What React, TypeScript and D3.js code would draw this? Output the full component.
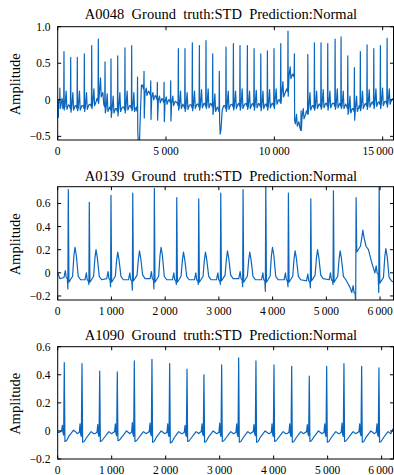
import React from "react";
import * as d3 from "d3";

const W = 394;
const H = 475;

const titles = [
  "A0048  Ground  truth:STD  Prediction:Normal",
  "A0139  Ground  truth:STD  Prediction:Normal",
  "A1090  Ground  truth:STD  Prediction:Normal",
];

const xTicks1 = [0, 5000, 10000, 15000];
const yTicks1 = [-0.5, 0, 0.5, 1.0];
const xTicks2 = [0, 1000, 2000, 3000, 4000, 5000, 6000];
const yTicks2 = [-0.2, 0, 0.2, 0.4, 0.6];
const xTicks3 = [0, 1000, 2000, 3000, 4000, 5000, 6000];
const yTicks3 = [-0.2, 0, 0.2, 0.4, 0.6];

// Panel 1 beats: [sample, baselineBefore, R, S, baselineAfter, T, (optional post-R points)]
const beats1: any[] = [
  [100, 0.0, 0.16, -0.12, -0.06, 0.02],
  [290, -0.04, 0.66, -0.14, -0.07, 0.12],
  [600, -0.08, 0.58, -0.17, -0.08, 0.1],
  [905, -0.08, 0.58, -0.15, -0.08, 0.12],
  [1230, -0.08, 0.63, -0.16, -0.07, 0.1],
  [1570, -0.06, 0.74, -0.12, -0.02, 0.15],
  [1875, 0.02, 0.83, -0.05, 0.1, 0.3],
  [2185, -0.06, 0.52, -0.18, -0.1, 0.08],
  [2460, -0.1, 0.56, -0.24, -0.12, 0.05],
  [2770, -0.12, 0.6, -0.22, -0.1, 0.1],
  [3105, -0.1, 0.71, -0.18, -0.08, 0.12],
  [3415, -0.08, 0.74, -0.15, -0.1, 0.1],
  [3685, -0.12, 0.31, -0.56, 0.2, 0.22, [[12, -0.45], [35, -0.56], [90, -0.56], [130, -0.2], [180, 0.2], [230, 0.2]]],
  [3985, 0.18, 0.39, -0.25, 0.12, 0.16],
  [4295, 0.1, 0.26, -0.27, 0.06, 0.1],
  [4600, 0.04, 0.24, -0.28, 0.02, 0.05],
  [4910, 0.0, 0.24, -0.3, 0.0, 0.04],
  [5215, 0.0, 0.26, -0.29, -0.02, 0.05],
  [5570, -0.04, 0.7, -0.14, -0.06, 0.12],
  [5875, -0.08, 0.7, -0.16, -0.07, 0.1],
  [6215, -0.07, 0.78, -0.15, -0.06, 0.12],
  [6540, -0.06, 0.74, -0.14, -0.05, 0.14],
  [6845, -0.05, 0.81, -0.12, -0.05, 0.15],
  [7155, -0.06, 0.63, -0.2, -0.1, 0.08],
  [7460, -0.12, 0.39, -0.47, -0.1, 0.05, [[15, -0.3], [40, -0.47], [80, -0.4], [130, -0.15], [200, -0.08]]],
  [7770, -0.08, 0.72, -0.16, -0.07, 0.12],
  [8110, -0.06, 0.77, -0.14, -0.06, 0.12],
  [8415, -0.05, 0.74, -0.14, -0.06, 0.15],
  [8755, -0.05, 0.74, -0.13, -0.06, 0.12],
  [9065, -0.05, 0.7, -0.14, -0.05, 0.13],
  [9375, -0.06, 0.63, -0.15, -0.06, 0.12],
  [9680, -0.06, 0.67, -0.14, -0.05, 0.14],
  [9985, -0.05, 0.7, -0.12, 0.0, 0.15],
  [10295, 0.0, 0.77, -0.05, 0.1, 0.25],
  [10630, 0.15, 0.94, 0.05, 0.35, 0.45],
  [10925, 0.35, 0.63, -0.28, -0.3, -0.2],
  [11235, -0.38, -0.15, -0.42, -0.2, -0.12],
  [11545, -0.15, 0.62, -0.2, -0.08, 0.1],
  [11850, -0.08, 0.78, -0.14, -0.06, 0.12],
  [12155, -0.06, 0.78, -0.13, -0.05, 0.14],
  [12465, -0.05, 0.77, -0.14, -0.05, 0.12],
  [12805, -0.05, 0.83, -0.13, -0.05, 0.15],
  [13080, -0.05, 0.86, -0.12, -0.06, 0.12],
  [13390, -0.08, 0.6, -0.2, -0.12, 0.05],
  [13695, -0.12, 0.44, -0.28, -0.1, 0.05],
  [13970, -0.08, 0.66, -0.15, -0.06, 0.12],
  [14280, -0.05, 0.75, -0.13, -0.04, 0.14],
  [14590, -0.03, 0.7, -0.12, -0.03, 0.15],
  [14895, -0.03, 0.74, -0.12, -0.02, 0.16],
  [15205, -0.02, 0.84, -0.1, 0.0, 0.15],
];
const fields1 = { b: 1, r: 2, s: 3, a: 4, t: 5 };
const tpl1: [number, string, number][] = [
  [-60, "b", 0], [-14, "b", -0.04], [0, "r", 0], [12, "s", 0],
  [45, "a", -0.03], [100, "t", 0], [135, "a", -0.06], [210, "a", 0],
];
const extras1: [number, number][] = [[0, -0.02], [30, -0.24], [15500, 0.02]];

// Panel 2 beats: [sample, baseline, Q, R, T, after]
const beats2: any[] = [
  [197, -0.04, -0.14, 0.72, 0.22, -0.06],
  [588, -0.06, -0.1, 0.61, 0.2, -0.06],
  [992, -0.05, -0.12, 0.67, 0.18, -0.06],
  [1397, -0.06, -0.15, 0.69, 0.19, -0.05],
  [1799, -0.05, -0.14, 0.73, 0.22, -0.06],
  [2216, -0.06, -0.1, 0.65, 0.18, -0.06],
  [2625, -0.06, -0.1, 0.64, 0.18, -0.06],
  [3035, -0.06, -0.1, 0.69, 0.19, -0.05],
  [3450, -0.05, -0.12, 0.72, 0.18, -0.06],
  [3873, -0.06, -0.16, 0.78, 0.22, -0.06],
  [4294, -0.06, -0.12, 0.69, 0.19, -0.06],
  [4711, -0.07, -0.13, 0.64, 0.2, -0.05],
  [5132, -0.06, -0.1, 0.71, 0.19, -0.06],
  [5554, -0.17, -0.26, 0.65, 0.37, 0.2],
  [5983, 0.0, -0.17, 0.78, 0.21, -0.07],
];
const fields2 = { b: 1, q: 2, r: 3, t: 4, a: 5 };
const tpl2: [number, string, number][] = [
  [-80, "b", 0], [-55, "b", 0.06], [-38, "b", 0], [-18, "b", -0.01], [-8, "q", 0],
  [0, "r", 0], [12, "a", -0.02], [40, "a", 0], [80, "a", 0.03], [105, "t", -0.07],
  [125, "t", 0], [150, "t", -0.07], [185, "a", 0.03], [230, "a", 0],
];
const extras2: [number, number][] = [[0, 0.0], [40, -0.05], [5400, -0.09], [5445, -0.13], [5850, 0.08], [6250, -0.08]];

// Panel 3 beats: [sample, baseline, R, S, preR]
const beats3: any[] = [
  [122, -0.01, 0.486, -0.075, 0.04],
  [450, -0.02, 0.48, -0.08, 0.05],
  [778, -0.02, 0.426, -0.075, 0.045],
  [1104, -0.015, 0.42, -0.07, 0.05],
  [1419, -0.02, 0.5, -0.075, 0.06],
  [1746, -0.015, 0.51, -0.08, 0.055],
  [2074, -0.02, 0.48, -0.085, 0.05],
  [2395, -0.02, 0.44, -0.075, 0.04],
  [2709, -0.015, 0.4, -0.08, 0.05],
  [3037, -0.02, 0.47, -0.075, 0.055],
  [3352, -0.02, 0.52, -0.08, 0.05],
  [3672, -0.015, 0.5, -0.08, 0.045],
  [4006, -0.02, 0.47, -0.075, 0.05],
  [4334, -0.02, 0.46, -0.08, 0.05],
  [4660, -0.015, 0.39, -0.075, 0.045],
  [4982, -0.02, 0.46, -0.08, 0.05],
  [5302, -0.02, 0.48, -0.075, 0.055],
  [5630, -0.015, 0.46, -0.08, 0.05],
  [5950, -0.02, 0.45, -0.08, 0.05],
];
const fields3 = { b: 1, r: 2, s: 3, p: 4 };
const tpl3: [number, string, number][] = [
  [-90, "b", 0], [-50, "b", 0.01], [-36, "p", 0], [-26, "b", 0], [-12, "b", -0.02],
  [0, "r", 0], [12, "s", 0], [40, "s", 0.005], [90, "b", -0.025], [140, "b", 0.0],
  [170, "b", 0.015], [220, "b", 0],
];
const extras3: [number, number][] = [[0, -0.01], [6220, 0.02]];

function build(beats: any[], fields: any, tpl: [number, string, number][], extras: [number, number][]) {
  const pts: [number, number][] = [];
  beats.forEach((bt) => {
    const x = bt[0];
    const last = bt[bt.length - 1];
    const post = Array.isArray(last) ? last : null;
    tpl.forEach(([off, f, add]) => {
      if (post && off > 0) return;
      pts.push([x + off, bt[fields[f]] + add]);
    });
    if (post) post.forEach(([off, v]: [number, number]) => pts.push([x + off, v]));
  });
  extras.forEach((p) => pts.push(p));
  pts.sort((a, b) => a[0] - b[0]);
  return pts;
}

const LEFT = 57.7;
const RIGHT = 393.5;

const panels = [
  {
    title: titles[0], top: 26.7, bottom: 140, xMax: 15500, yDom: [-0.55, 1.0],
    xTicks: xTicks1, yTicks: yTicks1, data: build(beats1, fields1, tpl1, extras1),
    titleY: 19, xLabY: 155,
  },
  {
    title: titles[1], top: 186.7, bottom: 300, xMax: 6250, yDom: [-0.235, 0.745],
    xTicks: xTicks2, yTicks: yTicks2, data: build(beats2, fields2, tpl2, extras2),
    titleY: 180.5, xLabY: 315,
  },
  {
    title: titles[2], top: 346.7, bottom: 459, xMax: 6220, yDom: [-0.2, 0.6],
    xTicks: xTicks3, yTicks: yTicks3, data: build(beats3, fields3, tpl3, extras3),
    titleY: 340, xLabY: 473.5,
  },
];

const fmtX = (v: number) => (v === 0 ? "0" : d3.format(",")(v).replace(/,/g, "\u2009"));
const fmtY = (v: number) => (v === 0 ? "0" : d3.format(".1f")(v));

const FONT = "'Liberation Serif', 'Times New Roman', serif";
const LINE = "#0b66bd";
const TL = 3.5;
const TFS = 11.5;

function Panel({ p, i }: { p: any; i: number }) {
  const x = d3.scaleLinear().domain([0, p.xMax]).range([LEFT, RIGHT]);
  const y = d3.scaleLinear().domain(p.yDom).range([p.bottom, p.top]);
  const line = d3.line<[number, number]>().x((d) => x(d[0])).y((d) => y(d[1]));
  const cid = `clip${i}`;
  return (
    <g>
      <defs>
        <clipPath id={cid}>
          <rect x={LEFT} y={p.top} width={RIGHT - LEFT} height={p.bottom - p.top} />
        </clipPath>
      </defs>
      <text x={221} y={p.titleY} textAnchor="middle" fontSize={14.5} fontFamily={FONT} style={{ whiteSpace: "pre" }}>
        {p.title}
      </text>
      <path d={line(p.data) || ""} fill="none" stroke={LINE} strokeWidth={1.2} strokeLinejoin="round" clipPath={`url(#${cid})`} />
      <rect x={LEFT} y={p.top} width={RIGHT - LEFT} height={p.bottom - p.top} fill="none" stroke="#000" strokeWidth={1} />
      {p.xTicks.map((v: number) => {
        const label = fmtX(v);
        const half = (label.replace(/\u2009/g, "").length * 0.5 + 0.2) * TFS / 2;
        const lx = Math.min(x(v), W - 0.5 - half);
        return (
          <g key={"x" + v}>
            <line x1={x(v)} x2={x(v)} y1={p.bottom} y2={p.bottom - TL} stroke="#000" />
            <line x1={x(v)} x2={x(v)} y1={p.top} y2={p.top + TL} stroke="#000" />
            <text x={lx} y={p.xLabY} textAnchor="middle" fontSize={TFS} fontFamily={FONT}>{label}</text>
          </g>
        );
      })}
      {p.yTicks.map((v: number) => (
        <g key={"y" + v}>
          <line x1={LEFT} x2={LEFT + TL} y1={y(v)} y2={y(v)} stroke="#000" />
          <line x1={RIGHT} x2={RIGHT - TL} y1={y(v)} y2={y(v)} stroke="#000" />
          <text x={50.5} y={y(v)} dy="0.35em" textAnchor="end" fontSize={TFS} fontFamily={FONT}>{fmtY(v)}</text>
        </g>
      ))}
      <text
        transform={`translate(20,${(p.top + p.bottom) / 2 + 1}) rotate(-90)`}
        textAnchor="middle" fontSize={14.5} fontFamily={FONT}
      >
        Amplitude
      </text>
    </g>
  );
}

export default function App() {
  return (
    <div style={{ position: "fixed", left: 0, top: 0, width: W, height: H, background: "#fff" }}>
      <svg width={W} height={H} viewBox={`0 0 ${W} ${H}`} style={{ display: "block" }}>
        <rect width={W} height={H} fill="#fff" />
        {panels.map((p, i) => (
          <Panel key={i} p={p} i={i} />
        ))}
      </svg>
    </div>
  );
}
